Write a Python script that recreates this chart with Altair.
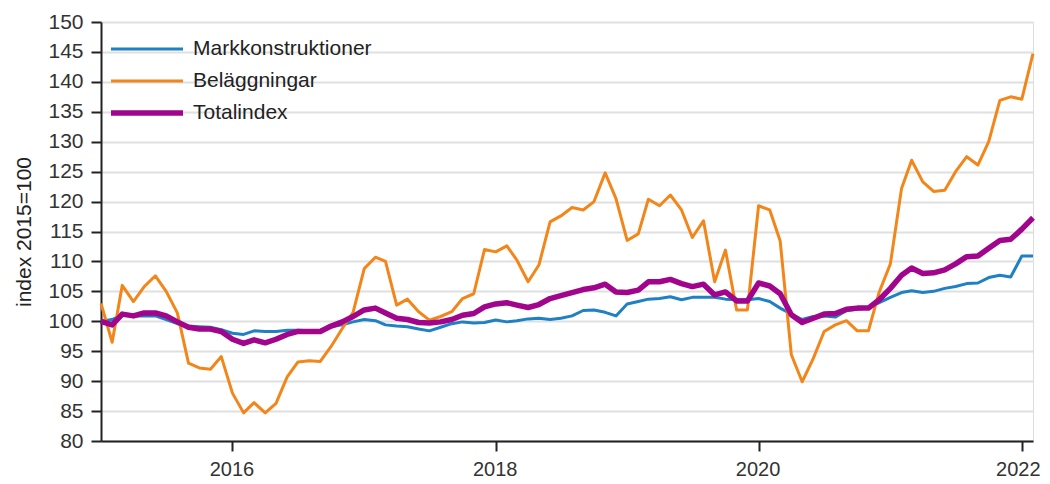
import altair as alt
import pandas as pd

# Monthly index values, Jan 2015 - Feb 2022 (2015=100)
months = pd.date_range("2015-01-01", periods=86, freq="MS").strftime("%Y-%m-%d").tolist()

markkonstruktioner = [
    100.0, 100.3, 101.1, 100.9, 100.9, 100.9, 100.3, 99.6, 99.2, 99.1, 99.0, 98.6,
    98.0, 97.8, 98.4, 98.3, 98.3, 98.5, 98.5, 98.4, 98.5, 99.1, 99.4, 99.9,
    100.3, 100.1, 99.4, 99.2, 99.1, 98.7, 98.4, 99.0, 99.6, 99.9, 99.7, 99.8,
    100.2, 99.9, 100.1, 100.4, 100.5, 100.3, 100.5, 100.9, 101.8, 101.9, 101.5, 100.9,
    102.9, 103.3, 103.7, 103.8, 104.1, 103.6, 104.0, 104.0, 104.0, 103.7, 103.6, 103.6,
    103.8, 103.3, 102.2, 101.2, 100.3, 100.8, 100.9, 100.7, 101.8, 102.0, 102.2, 103.1,
    104.0, 104.8, 105.1, 104.8, 105.0, 105.5, 105.8, 106.3, 106.4, 107.3, 107.7, 107.4,
    110.9, 110.9,
]

belaggningar = [
    103.0, 96.5, 106.0, 103.3, 105.8, 107.6, 105.0, 101.4, 93.0, 92.2, 92.0, 94.1,
    88.0, 84.7, 86.4, 84.7, 86.3, 90.7, 93.2, 93.4, 93.3, 95.8, 98.8, 101.5,
    108.8, 110.7, 110.0, 102.7, 103.7, 101.6, 100.2, 100.8, 101.6, 103.8, 104.6, 112.0,
    111.6, 112.6, 110.2, 106.6, 109.4, 116.6, 117.6, 119.0, 118.6, 120.0, 124.8, 120.5,
    113.5, 114.6, 120.4, 119.3, 121.1, 118.6, 114.0, 116.8, 106.6, 111.9, 101.9, 101.9,
    119.3, 118.6, 113.4, 94.4, 89.9, 93.8, 98.3, 99.4, 100.1, 98.4, 98.4, 104.9,
    109.6, 122.2, 126.9, 123.3, 121.7, 121.9, 125.0, 127.5, 126.1, 130.0, 136.9, 137.5,
    137.1, 144.7,
]

totalindex = [
    100.0, 99.4, 101.2, 100.9, 101.4, 101.4, 100.9, 99.9, 99.0, 98.7, 98.7, 98.3,
    97.0, 96.3, 96.9, 96.4, 97.0, 97.8, 98.3, 98.3, 98.3, 99.2, 99.9, 100.8,
    101.9, 102.2, 101.4, 100.5, 100.3, 99.8, 99.7, 99.9, 100.3, 101.0, 101.3, 102.4,
    102.9, 103.1, 102.7, 102.3, 102.8, 103.8, 104.3, 104.8, 105.3, 105.6, 106.2, 104.9,
    104.8, 105.2, 106.6, 106.6, 107.0, 106.3, 105.8, 106.2, 104.4, 104.9, 103.4, 103.4,
    106.4, 105.9, 104.6, 101.1, 99.8, 100.5, 101.2, 101.3, 102.0, 102.2, 102.2, 103.6,
    105.5, 107.7, 108.9, 108.0, 108.1, 108.6, 109.6, 110.8, 110.9, 112.2, 113.5, 113.7,
    115.4, 117.3,
]

series_names = ["Markkonstruktioner", "Beläggningar", "Totalindex"]
series_colors = ["#1f80c3", "#f2861a", "#a0058c"]
series_widths = [3, 3, 5.5]
y_ticks = list(range(80, 151, 5))
x_tick_years = [2016, 2018, 2020, 2022]

rows = []
for name, vals in zip(series_names, [markkonstruktioner, belaggningar, totalindex]):
    for m, v in zip(months, vals):
        rows.append({"month": m, "serie": name, "value": v})
df = pd.DataFrame(rows)

FONT = "Liberation Sans"

x_enc = alt.X(
    "month:T",
    scale=alt.Scale(
        type="utc",
        domain=[alt.DateTime(year=2015, month=1, date=1, utc=True),
                alt.DateTime(year=2022, month=2, date=1, utc=True)],
    ),
    axis=alt.Axis(
        values=[alt.DateTime(year=yr, month=1, date=1, utc=True) for yr in x_tick_years],
        format="%Y",
        title=None,
        grid=False,
        tickSize=10,
        labelPadding=8,
        labelFontSize=20,
        labelOffset=alt.expr("datum.label == '2022' ? -4 : -1"),
        labelFont=FONT,
        labelColor="#333333",
        labelOverlap=False,
        labelBound=False,
        labelFlush=False,
        domainColor="#222222",
        tickColor="#222222",
        domainWidth=2,
        tickWidth=2,
    ),
)

y_enc = alt.Y(
    "value:Q",
    scale=alt.Scale(domain=[80, 150], nice=False, zero=False),
    axis=alt.Axis(
        values=y_ticks,
        title="index 2015=100",
        titleFont=FONT,
        titleFontSize=21,
        titleFontWeight="normal",
        titleColor="#222222",
        titlePadding=13,
        tickSize=10,
        labelPadding=8,
        labelFontSize=21,
        labelFont=FONT,
        labelColor="#333333",
        domainColor="#222222",
        tickColor="#222222",
        domainWidth=2,
        tickWidth=2,
        gridColor="#e0e0e0",
        gridWidth=2,
    ),
)

legend = alt.Legend(
    title=None,
    orient="none",
    legendX=7,
    legendY=11,
    symbolType="stroke",
    symbolSize=5184,
    labelFont=FONT,
    labelFontSize=21,
    labelColor="#222222",
    labelOffset=7,
    labelLimit=400,
    clipHeight=32,
    rowPadding=0,
    padding=0,
)

chart = (
    alt.Chart(df)
    .mark_line(strokeJoin="round")
    .encode(
        x=x_enc,
        y=y_enc,
        color=alt.Color("serie:N", scale=alt.Scale(domain=series_names, range=series_colors), legend=legend),
        strokeWidth=alt.StrokeWidth(
            "serie:N",
            scale=alt.Scale(type="ordinal", domain=series_names, range=series_widths),
            legend=legend,
        ),
        order=alt.Order("month:T"),
    )
    .properties(
        width=932,
        height=419,
        autosize=alt.AutoSizeParams(type="none"),
        padding={"left": 93, "top": 14, "right": 9, "bottom": 40},
    )
    .configure_view(stroke=None)
    .configure(background="white")
)

chart.save("out.html", embed_options={"renderer": "svg", "actions": False})
